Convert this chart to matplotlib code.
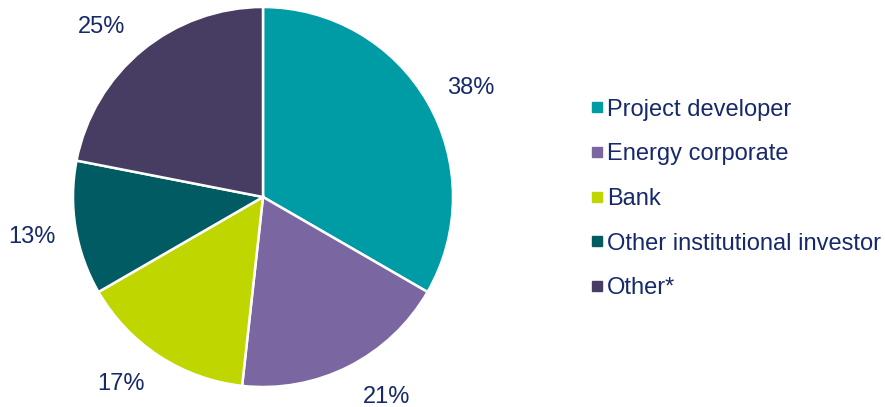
import matplotlib
matplotlib.use("Agg")
import numpy as np
import matplotlib.pyplot as plt
from matplotlib.lines import Line2D

plt.rcParams['font.family'] = ['Liberation Sans', 'DejaVu Sans']

categories = ["Project developer", "Energy corporate", "Bank",
              "Other institutional investor", "Other*"]
values = [38, 21, 17, 13, 25]
colors = ["#009CA6", "#7A66A0", "#BFD600", "#005B63", "#473C61"]
text_color = "#16296B"
# small angular nudges (degrees, clockwise) for the value labels
label_nudge = [2.2, -4.8, 4.1, -0.3, -4.0]
label_dist = 1.235

W, H = 885, 407
fig = plt.figure(figsize=(W / 100, H / 100), dpi=100)

cx, cy, r = 263, 197, 190
ax = fig.add_axes([(cx - r) / W, (H - cy - r) / H, 2 * r / W, 2 * r / H])

wedges, texts, autotexts = ax.pie(
    values, colors=colors, startangle=90, counterclock=False,
    radius=1.0, autopct="%1.0f%%", pctdistance=label_dist,
    wedgeprops=dict(edgecolor="white", linewidth=1.8),
    textprops=dict(color=text_color, fontsize=17),
)
for w, t, v, nudge in zip(wedges, autotexts, values, label_nudge):
    t.set_text(f"{v}%")
    mid = np.deg2rad((w.theta1 + w.theta2) / 2 - nudge)
    t.set_position((label_dist * np.cos(mid), label_dist * np.sin(mid)))

ax.set_xlim(-1, 1)
ax.set_ylim(-1, 1)
ax.set_aspect("equal")
ax.axis("off")

handles = [Line2D([], [], linestyle="none", marker="s", markersize=6.5,
                  markerfacecolor=c, markeredgecolor=c) for c in colors]
fig.legend(handles, categories, loc="center left",
           bbox_to_anchor=(591 / W, 1 - 199 / H), frameon=False,
           fontsize=17, labelcolor=text_color, handlelength=0.5,
           handletextpad=0.18, labelspacing=0.96, borderpad=0,
           borderaxespad=0)

fig.savefig("out.png", dpi=100)
